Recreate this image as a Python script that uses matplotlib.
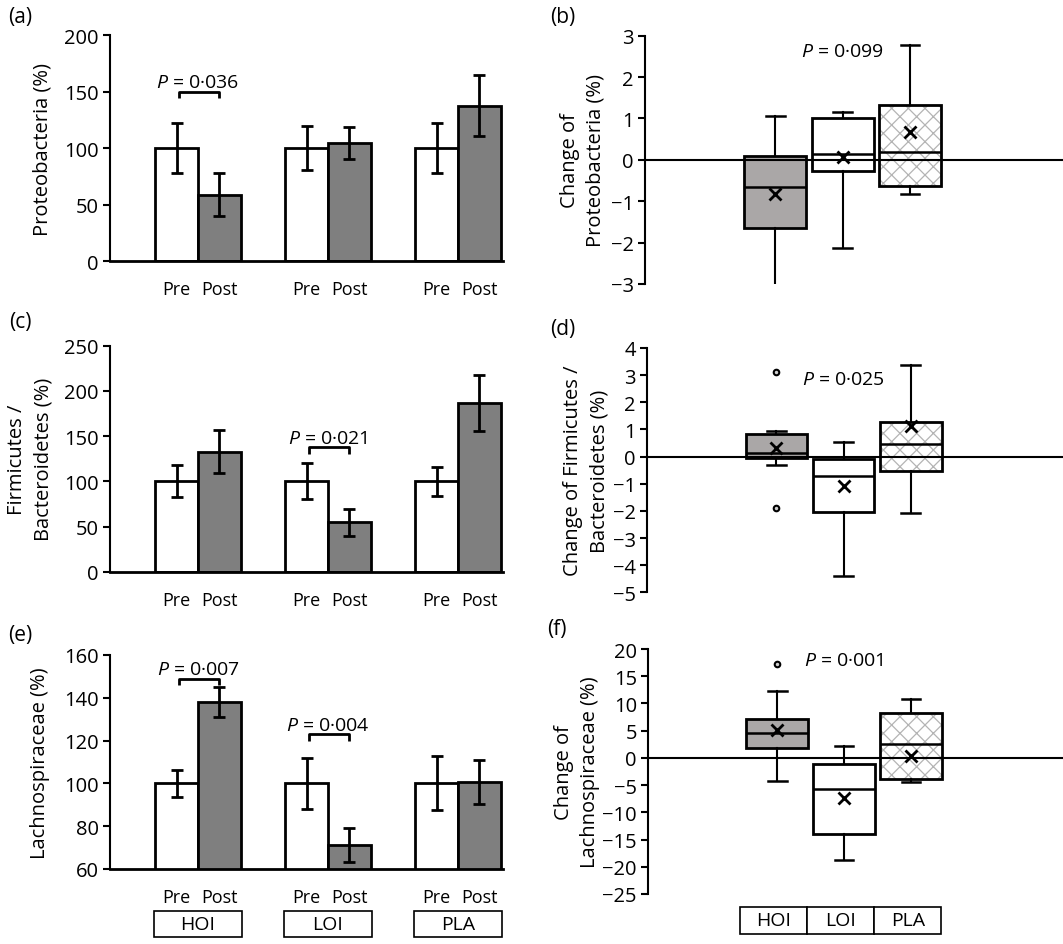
import numpy as np
import matplotlib
matplotlib.use("Agg")
from matplotlib import pyplot as plt
from matplotlib.patches import Rectangle
from matplotlib.transforms import blended_transform_factory

plt.rcParams['font.family'] = ['Open Sans', 'DejaVu Sans']
plt.rcParams['font.size'] = 14.5
plt.rcParams['mathtext.fontset'] = 'custom'
plt.rcParams['mathtext.it'] = 'Open Sans:italic'
plt.rcParams['mathtext.rm'] = 'Open Sans'
plt.rcParams['hatch.linewidth'] = 0.9

groups = ['HOI', 'LOI', 'PLA']

# bar panels: Pre is always 100 %
prot_pre = [100, 100, 100]
prot_pre_err = [22.5, 19.5, 22]
prot_post = [58.5, 104.5, 137.5]
prot_post_err = [19, 14.5, 27]

fb_pre = [100, 100, 100]
fb_pre_err = [17.7, 20, 16]
fb_post = [132.7, 54.6, 186.6]
fb_post_err = [24, 15, 31]

lach_pre = [100, 100, 100]
lach_pre_err = [6.3, 12, 12.6]
lach_post = [137.9, 71.2, 100.8]
lach_post_err = [7, 8, 10.3]

# brackets: (group, height, text)
prot_brackets = [(0, 150, '0·036')]
fb_brackets = [(1, 138, '0·021')]
lach_brackets = [(0, 149, '0·007'), (1, 123, '0·004')]

# box panels, order HOI, LOI, PLA
prot_q1 = [-1.65, -0.27, -0.64]
prot_med = [-0.65, 0.15, 0.18]
prot_q3 = [0.1, 1.0, 1.32]
prot_lo = [-3.05, -2.12, -0.83]
prot_hi = [1.07, 1.15, 2.77]
prot_mean = [-0.83, 0.07, 0.68]
prot_fliers = [[], [], []]

fbc_q1 = [-0.07, -2.05, -0.53]
fbc_med = [0.12, -0.7, 0.47]
fbc_q3 = [0.83, -0.1, 1.27]
fbc_lo = [-0.3, -4.4, -2.08]
fbc_hi = [0.95, 0.53, 3.38]
fbc_mean = [0.32, -1.08, 1.12]
fbc_fliers = [[3.13, -1.9], [], []]

lc_q1 = [1.9, -14.0, -3.8]
lc_med = [4.6, -5.7, 2.5]
lc_q3 = [7.1, -1.1, 8.3]
lc_lo = [-4.3, -18.8, -4.4]
lc_hi = [12.2, 2.1, 10.8]
lc_mean = [5.2, -7.3, 0.3]
lc_fliers = [[17.3], [], []]

W, H = 1063, 945
fig = plt.figure(figsize=(W / 100, H / 100), dpi=100)


def px_axes(l, t, r, b):
    return fig.add_axes([l / W, 1 - b / H, (r - l) / W, (b - t) / H])


def ptext(ax, x, y, val, **kw):
    ax.text(x, y, r'$\mathit{P}$ = ' + val, ha='center', fontsize=14, **kw)


def bar_panel(ax, pre, pre_err, post, post_err, ylim, yticks, ylabel, label_x, brackets, extent_px):
    x = np.arange(len(pre))
    ekw = dict(ecolor='black', elinewidth=2, capsize=4, capthick=2)
    ax.bar(x - 0.165, pre, 0.33, color='white', edgecolor='black', linewidth=2,
           yerr=pre_err, error_kw=ekw)
    ax.bar(x + 0.165, post, 0.33, color='#7f7f7f', edgecolor='black', linewidth=2,
           yerr=post_err, error_kw=ekw)
    ax.set_xlim(-0.677, 2.346)
    ax.set_ylim(*ylim)
    ax.set_yticks(yticks)
    ax.set_xticks(np.concatenate([x - 0.165, x + 0.165]))
    ax.set_xticklabels(['Pre'] * len(x) + ['Post'] * len(x), fontsize=13)
    ax.tick_params(axis='x', length=0, pad=14)
    ax.tick_params(axis='y', length=5, width=1.5, direction='out', pad=3)
    for s in ['top', 'right']:
        ax.spines[s].set_visible(False)
    ax.spines['left'].set_linewidth(1.5)
    ax.spines['bottom'].set_linewidth(2)
    l, r = extent_px
    ax.set_ylabel(ylabel, va='center', linespacing=1.4)
    ax.yaxis.set_label_coords((label_x - l) / (r - l), 0.5)
    span = ylim[1] - ylim[0]
    for g, y, val in brackets:
        ax.plot([g - 0.15, g - 0.15, g + 0.16, g + 0.16],
                [y - 0.03 * span, y, y, y - 0.03 * span], color='black', lw=2,
                solid_capstyle='butt')
        ax.annotate(r'$\mathit{P}$ = ' + val, (g, y), xytext=(0, 3), fontsize=14,
                    textcoords='offset points', ha='center', va='baseline')


def box_panel(ax, q1, med, q3, lo, hi, mean, fliers, ylim, yticks, ylabel, label_x, ptxt, pos_y, left_px):
    stats = []
    for i in range(3):
        stats.append(dict(q1=q1[i], med=med[i], q3=q3[i], whislo=lo[i], whishi=hi[i],
                          mean=mean[i], fliers=fliers[i]))
    bp = ax.bxp(stats, positions=[0, 1, 2], widths=0.92, patch_artist=True, showmeans=True,
                capwidths=0.28,
                boxprops=dict(edgecolor='black', linewidth=2),
                medianprops=dict(color='black', linewidth=1.8),
                whiskerprops=dict(color='black', linewidth=1.5),
                capprops=dict(color='black', linewidth=1.8),
                meanprops=dict(marker='x', markeredgecolor='black', markersize=8,
                               markeredgewidth=2),
                flierprops=dict(marker='o', markersize=4, markerfacecolor='#cfcfcf',
                                markeredgecolor='black', markeredgewidth=1.5))
    bp['boxes'][0].set_facecolor('#aaa7a7')
    bp['boxes'][1].set_facecolor('white')
    bp['boxes'][2].set_facecolor('none')
    ax.add_patch(Rectangle((2 - 0.46, q1[2]), 0.92, q3[2] - q1[2], facecolor='white',
                           edgecolor='#b4b4b4', hatch='xx', linewidth=0, zorder=1.9))
    ax.axhline(0, color='black', lw=1.5, zorder=3)
    ax.set_xlim(-1.93, 4.27)
    ax.set_ylim(*ylim)
    ax.set_yticks(yticks)
    ax.set_xticks([])
    ax.tick_params(axis='y', length=5, width=1.5, direction='out', pad=3)
    for s in ['top', 'right', 'bottom']:
        ax.spines[s].set_visible(False)
    ax.spines['left'].set_linewidth(1.5)
    ax.set_ylabel(ylabel, va='center', linespacing=1.4)
    ax.yaxis.set_label_coords((label_x - left_px) / (1063 - left_px), 0.5)
    ptext(ax, 1, pos_y, ptxt, va='center')


# left column
ax_a = px_axes(110, 36, 503, 262)
bar_panel(ax_a, prot_pre, prot_pre_err, prot_post, prot_post_err, (0, 200),
          [0, 50, 100, 150, 200], 'Proteobacteria (%)', 43, prot_brackets, (110, 503))
ax_c = px_axes(110, 346.7, 503, 572.7)
bar_panel(ax_c, fb_pre, fb_pre_err, fb_post, fb_post_err, (0, 250),
          [0, 50, 100, 150, 200, 250], 'Firmicutes /\nBacteroidetes (%)', 30, fb_brackets,
          (110, 503))
ax_e = px_axes(110, 656, 503, 870)
bar_panel(ax_e, lach_pre, lach_pre_err, lach_post, lach_post_err, (60, 160),
          [60, 80, 100, 120, 140, 160], 'Lachnospiraceae (%)', 40, lach_brackets, (110, 503))
tr = blended_transform_factory(ax_e.transData, ax_e.transAxes)
for i, g in enumerate(groups):
    ax_e.add_patch(Rectangle((i - 0.335, -0.318), 0.67, 0.123, transform=tr, clip_on=False,
                             facecolor='white', edgecolor='black', lw=1.2))
    ax_e.text(i, -0.256, g, transform=tr, ha='center', va='center', fontsize=14)

# right column
ax_b = px_axes(645, 36.7, 1063, 285)
box_panel(ax_b, prot_q1, prot_med, prot_q3, prot_lo, prot_hi, prot_mean, prot_fliers,
          (-3, 3), range(-3, 4), 'Change of\nProteobacteria (%)', 583, '0·099', 2.63, 645)
ax_d = px_axes(647, 349, 1063, 593.3)
box_panel(ax_d, fbc_q1, fbc_med, fbc_q3, fbc_lo, fbc_hi, fbc_mean, fbc_fliers,
          (-5, 4), range(-5, 5), 'Change of Firmicutes /\nBacteroidetes (%)', 586, '0·025',
          2.86, 647)
ax_f = px_axes(648, 650, 1063, 895)
box_panel(ax_f, lc_q1, lc_med, lc_q3, lc_lo, lc_hi, lc_mean, lc_fliers,
          (-25, 20), range(-25, 21, 5), 'Change of\nLachnospiraceae (%)', 577, '0·001',
          18, 648)
tr = blended_transform_factory(ax_f.transData, ax_f.transAxes)
for i, g in enumerate(groups):
    ax_f.add_patch(Rectangle((i - 0.55, -0.163), 1.0, 0.11, transform=tr, clip_on=False,
                             facecolor='white', edgecolor='black', lw=1.2))
    ax_f.text(i - 0.05, -0.108, g, transform=tr, ha='center', va='center', fontsize=14)

# panel letters
for lab, x, y in [('(a)', 20, 17), ('(b)', 563, 17), ('(c)', 20, 323),
                  ('(d)', 563, 330), ('(e)', 20, 635), ('(f)', 557, 630)]:
    fig.text(x / W, 1 - y / H, lab, ha='center', va='center', fontsize=15)

fig.savefig('out.png', dpi=100)
